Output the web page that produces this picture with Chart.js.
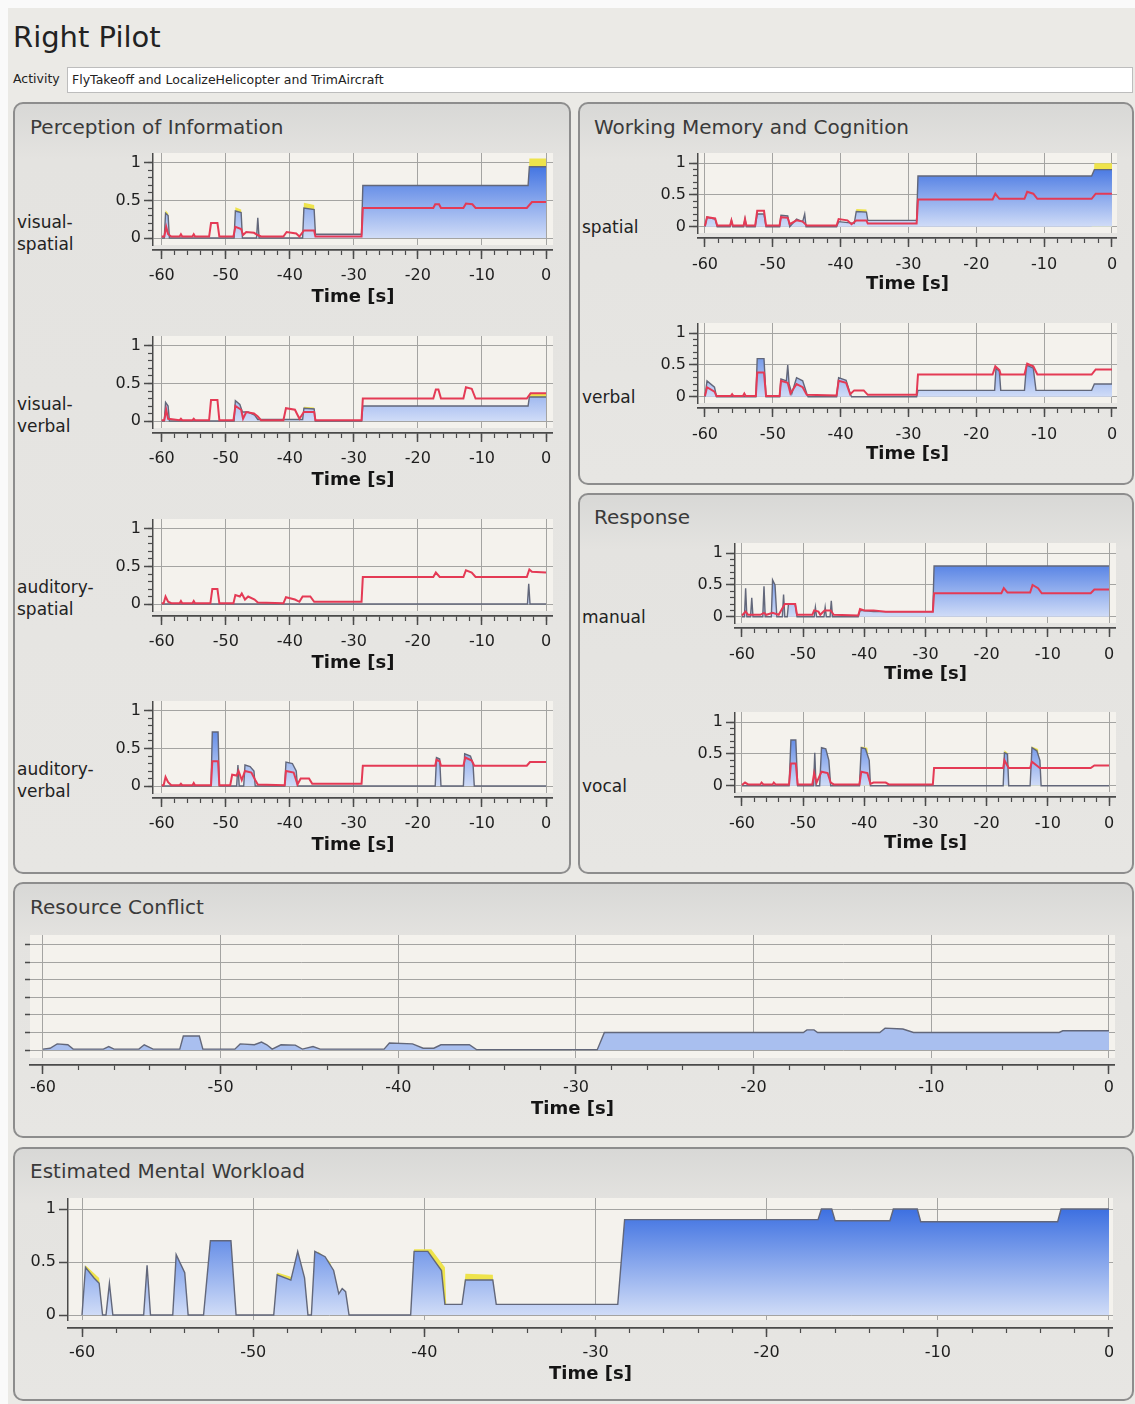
<!DOCTYPE html>
<html>
<head>
<meta charset="utf-8">
<script src="https://cdn.jsdelivr.net/npm/chart.js@4.4.1/dist/chart.umd.min.js"></script>
<style>
body{margin:0;background:#fafafa;font-family:'DejaVu Sans',sans-serif;color:#2a2a2a;}
#page{position:absolute;left:8px;top:8px;width:1127px;height:1396px;background:#ebeae6;}
.panel{position:absolute;box-sizing:border-box;border:2px solid #8d8d8d;border-radius:10px;
  background:linear-gradient(#d8d8d6 0px,#e4e3e0 55px,#e7e6e3 100%);}
.ptitle{position:absolute;font-size:20px;line-height:24px;color:#3a3a3a;white-space:nowrap;}
.row{position:absolute;font-size:17px;line-height:22px;color:#222;}
.box{position:absolute;}
#title{position:absolute;left:13px;top:17px;font-size:29px;line-height:40px;color:#222;}
#actLabel{position:absolute;left:13px;top:71px;font-size:12.5px;color:#222;}
#actBox{position:absolute;left:67px;top:67px;width:1066px;height:26px;box-sizing:border-box;background:#fff;
  border:1px solid #bdbdbd;font-size:12.5px;line-height:24px;padding-left:4px;color:#222;}
</style>
</head>
<body>
<div id="page"></div>
<div id="title">Right Pilot</div>
<div id="actLabel">Activity</div>
<div id="actBox">FlyTakeoff and LocalizeHelicopter and TrimAircraft</div>

<div class="panel" style="left:13px;top:102px;width:558px;height:772px"></div>
<div class="panel" style="left:578px;top:102px;width:556px;height:383px"></div>
<div class="panel" style="left:578px;top:493px;width:556px;height:381px"></div>
<div class="panel" style="left:13px;top:882px;width:1121px;height:256px"></div>
<div class="panel" style="left:13px;top:1147px;width:1121px;height:254px"></div>

<div class="ptitle" style="left:30px;top:115px">Perception of Information</div>
<div class="ptitle" style="left:594px;top:115px">Working Memory and Cognition</div>
<div class="ptitle" style="left:594px;top:505px">Response</div>
<div class="ptitle" style="left:30px;top:895px">Resource Conflict</div>
<div class="ptitle" style="left:30px;top:1159px">Estimated Mental Workload</div>

<div class="row" style="left:17px;top:211px">visual-<br>spatial</div>
<div class="row" style="left:17px;top:393px">visual-<br>verbal</div>
<div class="row" style="left:17px;top:576px">auditory-<br>spatial</div>
<div class="row" style="left:17px;top:758px">auditory-<br>verbal</div>
<div class="row" style="left:582px;top:216px">spatial</div>
<div class="row" style="left:582px;top:386px">verbal</div>
<div class="row" style="left:582px;top:606px">manual</div>
<div class="row" style="left:582px;top:775px">vocal</div>

<div class="box" style="left:113px;top:153px;width:440px;height:155px"><canvas id="cVS"></canvas></div>
<div class="box" style="left:113px;top:336px;width:440px;height:155px"><canvas id="cVV"></canvas></div>
<div class="box" style="left:113px;top:519px;width:440px;height:155px"><canvas id="cAS"></canvas></div>
<div class="box" style="left:113px;top:701px;width:440px;height:155px"><canvas id="cAV"></canvas></div>
<div class="box" style="left:658px;top:153px;width:459px;height:142px"><canvas id="cWS"></canvas></div>
<div class="box" style="left:658px;top:323px;width:459px;height:142px"><canvas id="cWV"></canvas></div>
<div class="box" style="left:695px;top:543px;width:421px;height:142px"><canvas id="cRM"></canvas></div>
<div class="box" style="left:695px;top:712px;width:421px;height:142px"><canvas id="cRV"></canvas></div>
<div class="box" style="left:22px;top:935px;width:1093px;height:185px"><canvas id="cRC"></canvas></div>
<div class="box" style="left:20px;top:1198px;width:1093px;height:187px"><canvas id="cEW"></canvas></div>

<script>
// tick positions
const xMajor = [-60, -50, -40, -30, -20, -10, 0];
const xMinor = [-60, -58, -56, -54, -52, -50, -48, -46, -44, -42, -40, -38, -36, -34, -32, -30,
                -28, -26, -24, -22, -20, -18, -16, -14, -12, -10, -8, -6, -4, -2, 0];
const yMajor = [0, 0.5, 1];
const yMinor = [0, 0.1, 0.2, 0.3, 0.4, 0.5, 0.6, 0.7, 0.8, 0.9, 1];
const conflictTicks = [0, 1, 2, 3, 4, 5, 6];

// visual-spatial
const vsLoad = [[-60,0],[-59.6,0],[-59.4,0.33],[-59.0,0.3],[-58.8,0],[-48.7,0],[-48.5,0.36],[-47.6,0.34],[-47.4,0],
  [-45.2,0],[-45.0,0.27],[-44.8,0],[-38.0,0],[-37.8,0.4],[-36.2,0.38],[-36.0,0.05],[-28.8,0.05],[-28.6,0.7],
  [-2.8,0.7],[-2.6,0.95],[0,0.95]];
const vsYellow = [[-60,0],[-59.6,0],[-59.4,0.37],[-59.0,0.33],[-58.8,0],[-48.7,0],[-48.5,0.41],[-47.6,0.38],[-47.4,0],
  [-38.0,0],[-37.8,0.47],[-36.2,0.44],[-36.0,0],[-2.8,0],[-2.6,1.06],[0,1.06]];
const vsRed = [[-60,0.02],[-59.6,0.02],[-59.3,0.15],[-59.0,0.05],[-58.5,0.02],[-57.2,0.02],[-57.0,0.05],[-56.8,0.02],
  [-55.2,0.02],[-55.0,0.05],[-54.8,0.02],[-52.6,0.02],[-52.3,0.2],[-51.3,0.2],[-51.0,0.02],[-48.8,0.02],[-48.5,0.15],
  [-47.6,0.12],[-47.3,0.04],[-46.8,0.08],[-45.6,0.07],[-45.0,0.04],[-44.5,0.02],[-41.0,0.02],[-40.5,0.08],[-39.0,0.06],
  [-38.5,0.02],[-37.8,0.1],[-36.2,0.1],[-36.0,0.02],[-28.8,0.02],[-28.6,0.4],[-17.6,0.4],[-17.3,0.45],[-16.7,0.45],
  [-16.4,0.4],[-12.9,0.4],[-12.5,0.46],[-11.5,0.45],[-11.0,0.4],[-3.0,0.4],[-2.2,0.48],[0,0.48]];

// visual-verbal
const vvLoad = [[-60,0],[-59.6,0],[-59.4,0.25],[-59.0,0.2],[-58.8,0],[-48.7,0],[-48.5,0.27],[-47.8,0.22],[-47.4,0.12],
  [-46.5,0.12],[-45.5,0.08],[-45.0,0.02],[-38.0,0.02],[-37.8,0.17],[-36.2,0.16],[-36.0,0],[-28.8,0],[-28.6,0.2],
  [-2.8,0.2],[-2.6,0.32],[0,0.32]];
const vvYellow = [[-60,0],[-37.9,0],[-37.8,0.19],[-36.2,0.18],[-36.0,0],[-2.8,0],[-2.6,0.37],[0,0.37]];
const vvRed = [[-60,0.01],[-59.6,0.01],[-59.3,0.15],[-59.0,0.03],[-57.2,0.01],[-57.0,0.03],[-56.8,0.01],[-55.2,0.01],
  [-55.0,0.03],[-54.8,0.01],[-52.6,0.01],[-52.3,0.28],[-51.3,0.28],[-51.0,0.01],[-48.8,0.01],[-48.5,0.2],[-47.6,0.15],
  [-47.3,0.03],[-46.8,0.12],[-45.6,0.1],[-45.0,0.06],[-44.5,0.01],[-41.0,0.01],[-40.6,0.17],[-39.2,0.15],[-38.5,0.03],
  [-37.8,0.12],[-36.2,0.12],[-36.0,0.01],[-28.8,0.01],[-28.6,0.3],[-17.6,0.3],[-17.2,0.42],[-16.8,0.42],[-16.4,0.3],
  [-12.9,0.3],[-12.5,0.45],[-11.6,0.43],[-11.0,0.3],[-3.0,0.3],[-2.4,0.37],[0,0.37]];

// auditory-spatial
const asLoad = [[-60,0],[-2.9,0],[-2.7,0.27],[-2.5,0],[0,0]];
const asRed = [[-60,0.01],[-59.7,0.01],[-59.4,0.1],[-59.0,0.03],[-58.5,0.01],[-57.2,0.01],[-57.0,0.04],[-56.8,0.01],
  [-55.2,0.01],[-55.0,0.04],[-54.8,0.01],[-52.4,0.01],[-52.1,0.2],[-51.3,0.2],[-51.0,0.01],[-48.8,0.01],[-48.5,0.12],
  [-47.8,0.1],[-47.5,0.14],[-47.0,0.06],[-46.5,0.1],[-45.5,0.06],[-45.0,0.02],[-41.0,0.01],[-40.6,0.09],[-39.2,0.06],
  [-38.5,0.03],[-38.0,0.1],[-36.8,0.1],[-36.2,0.03],[-28.8,0.03],[-28.6,0.36],[-17.6,0.36],[-17.2,0.42],[-16.6,0.36],
  [-12.9,0.36],[-12.5,0.45],[-11.6,0.42],[-11.0,0.36],[-3.0,0.36],[-2.6,0.46],[-2.2,0.43],[0,0.42]];

// auditory-verbal
const avLoad = [[-60,0],[-52.3,0],[-52.1,0.72],[-51.2,0.72],[-51.0,0],[-48.3,0],[-48.1,0.28],[-47.9,0],[-47.2,0],
  [-47.0,0.28],[-46.2,0.26],[-45.6,0.2],[-45.4,0],[-40.8,0],[-40.6,0.32],[-39.6,0.3],[-39.0,0.2],[-38.8,0],[-17.3,0],
  [-17.1,0.38],[-16.6,0.36],[-16.4,0],[-12.9,0],[-12.7,0.43],[-11.8,0.4],[-11.4,0.3],[-11.2,0],[0,0]];
const avRed = [[-60,0.01],[-59.7,0.01],[-59.4,0.12],[-59.0,0.05],[-58.5,0.01],[-57.2,0.01],[-57.0,0.03],[-56.8,0.01],
  [-55.2,0.01],[-55.0,0.04],[-54.8,0.01],[-52.3,0.01],[-52.1,0.33],[-51.2,0.33],[-51.0,0.01],[-49.3,0.01],[-49.0,0.15],
  [-48.3,0.14],[-48.0,0.2],[-47.5,0.08],[-47.0,0.2],[-46.0,0.18],[-45.4,0.08],[-45.0,0.02],[-40.8,0.01],[-40.6,0.2],
  [-39.4,0.18],[-38.8,0.02],[-38.3,0.1],[-37.0,0.1],[-36.5,0.03],[-28.8,0.03],[-28.6,0.27],[-17.3,0.27],[-17.1,0.35],
  [-16.6,0.33],[-16.4,0.27],[-12.9,0.27],[-12.6,0.38],[-11.6,0.34],[-11.2,0.27],[-3.0,0.27],[-2.5,0.32],[0,0.32]];

// working memory spatial
const wsLoad = [[-60,0],[-59.7,0.15],[-58.5,0.12],[-58.2,0],[-56.3,0],[-56.1,0.1],[-55.9,0],[-54.3,0],[-54.1,0.12],
  [-53.9,0],[-52.6,0],[-52.3,0.2],[-51.3,0.2],[-51.0,0],[-49.0,0],[-48.8,0.18],[-47.8,0.17],[-47.5,0],[-46.5,0.12],
  [-45.6,0.08],[-45.3,0.2],[-45.1,0],[-40.6,0],[-40.3,0.08],[-38.6,0.06],[-38.0,0.05],[-37.7,0.24],[-36.2,0.23],
  [-36.0,0.1],[-28.8,0.1],[-28.6,0.8],[-3.0,0.8],[-2.6,0.9],[0,0.9]];
const wsYellow = [[-60,0],[-37.8,0],[-37.7,0.28],[-36.2,0.27],[-36.0,0],[-3.0,0],[-2.6,1.0],[0,1.0]];
const wsRed = [[-60,0.01],[-59.7,0.15],[-58.5,0.13],[-58.2,0.02],[-56.3,0.02],[-56.1,0.1],[-55.9,0.02],[-54.3,0.02],
  [-54.1,0.12],[-53.9,0.02],[-52.6,0.02],[-52.3,0.25],[-51.3,0.25],[-51.0,0.02],[-49.0,0.02],[-48.8,0.15],[-47.8,0.14],
  [-47.5,0.04],[-46.5,0.1],[-45.6,0.08],[-45.0,0.02],[-40.6,0.02],[-40.3,0.12],[-39.0,0.1],[-38.4,0.04],[-37.7,0.1],
  [-36.2,0.1],[-36.0,0.05],[-28.8,0.05],[-28.6,0.43],[-17.6,0.43],[-17.2,0.52],[-16.6,0.44],[-12.9,0.44],[-12.5,0.55],
  [-11.6,0.52],[-11.0,0.44],[-3.0,0.44],[-2.4,0.52],[0,0.52]];

// working memory verbal
const wvLoad = [[-60,0],[-59.7,0.25],[-58.6,0.15],[-58.3,0],[-52.5,0],[-52.3,0.6],[-51.3,0.6],[-51.0,0],[-49.0,0],
  [-48.8,0.28],[-48.0,0.25],[-47.8,0.5],[-47.6,0.2],[-47.2,0.05],[-46.5,0.3],[-45.6,0.25],[-45.0,0.05],[-44.8,0],
  [-40.6,0],[-40.3,0.3],[-39.2,0.26],[-38.6,0.05],[-38.4,0],[-28.8,0],[-28.6,0.1],[-17.3,0.1],[-17.1,0.45],[-16.6,0.4],
  [-16.4,0.1],[-12.9,0.1],[-12.6,0.5],[-11.6,0.45],[-11.2,0.1],[-3.0,0.1],[-2.6,0.2],[0,0.2]];
const wvRed = [[-60,0.01],[-59.7,0.15],[-58.6,0.08],[-58.3,0.01],[-56.2,0.01],[-56.0,0.04],[-55.8,0.01],[-54.4,0.01],
  [-54.2,0.05],[-54.0,0.01],[-52.5,0.01],[-52.3,0.38],[-51.3,0.38],[-51.0,0.01],[-49.0,0.01],[-48.8,0.25],[-47.8,0.22],
  [-47.4,0.05],[-46.5,0.2],[-45.6,0.15],[-45.0,0.03],[-40.6,0.02],[-40.3,0.25],[-39.2,0.22],[-38.6,0.04],[-38.0,0.1],
  [-36.6,0.1],[-36.0,0.03],[-28.8,0.03],[-28.6,0.35],[-17.6,0.35],[-17.2,0.48],[-16.6,0.42],[-16.4,0.35],[-12.9,0.35],
  [-12.5,0.52],[-11.6,0.48],[-11.0,0.35],[-3.0,0.35],[-2.4,0.43],[0,0.43]];

// response manual
const rmLoad = [[-60,0],[-59.6,0],[-59.4,0.45],[-59.2,0],[-58.6,0],[-58.4,0.3],[-58.2,0],[-56.6,0],[-56.4,0.48],
  [-56.2,0],[-55.2,0],[-55.0,0.58],[-54.6,0.5],[-54.3,0],[-53.4,0],[-53.2,0.35],[-53.0,0],[-52.6,0],[-52.4,0.2],
  [-51.3,0.2],[-51.0,0],[-48.2,0],[-48.0,0.15],[-47.8,0],[-46.6,0],[-46.4,0.15],[-46.2,0],[-45.6,0],[-45.4,0.25],
  [-45.2,0],[-41.0,0],[-40.7,0.1],[-38.5,0.08],[-28.8,0.08],[-28.6,0.8],[0,0.8]];
const rmRed = [[-60,0.02],[-59.4,0.08],[-59.0,0.03],[-57.0,0.03],[-56.4,0.06],[-56.0,0.03],[-55.0,0.06],[-54.0,0.03],
  [-53.0,0.2],[-51.3,0.2],[-51.0,0.03],[-48.5,0.03],[-48.2,0.1],[-47.5,0.08],[-47.2,0.03],[-46.5,0.1],[-45.5,0.1],
  [-45.0,0.03],[-41.0,0.02],[-40.7,0.12],[-40.0,0.1],[-38.5,0.1],[-36.5,0.08],[-28.8,0.08],[-28.6,0.37],[-17.6,0.37],
  [-17.2,0.45],[-16.6,0.38],[-12.9,0.38],[-12.5,0.5],[-11.6,0.45],[-11.0,0.37],[-3.0,0.37],[-2.4,0.43],[0,0.43]];

// response vocal
const rvLoad = [[-60,0],[-52.3,0],[-52.0,0.72],[-51.2,0.72],[-50.9,0],[-48.3,0],[-48.1,0.52],[-47.9,0],[-47.3,0],
  [-47.0,0.6],[-46.3,0.58],[-45.8,0.4],[-45.5,0],[-40.8,0],[-40.5,0.6],[-39.8,0.58],[-39.2,0.4],[-39.0,0],[-17.3,0],
  [-17.1,0.52],[-16.6,0.5],[-16.4,0],[-12.9,0],[-12.6,0.6],[-11.8,0.55],[-11.3,0.4],[-11.1,0],[0,0]];
const rvYellow = [[-60,0],[-40.8,0],[-40.5,0.62],[-39.5,0.6],[-39.0,0],[-17.3,0],[-17.1,0.56],[-16.6,0.52],[-16.4,0],
  [-12.9,0],[-12.6,0.62],[-11.6,0.58],[-11.1,0],[0,0]];
const rvRed = [[-60,0.01],[-59.5,0.05],[-59.0,0.02],[-57.0,0.02],[-56.8,0.05],[-56.5,0.02],[-55.0,0.02],[-54.8,0.05],
  [-54.5,0.02],[-52.3,0.02],[-52.0,0.35],[-51.2,0.35],[-50.9,0.02],[-48.5,0.02],[-48.2,0.2],[-47.8,0.05],[-47.0,0.22],
  [-46.0,0.2],[-45.5,0.05],[-45.0,0.02],[-40.8,0.02],[-40.5,0.22],[-39.5,0.2],[-39.0,0.03],[-38.5,0.05],[-36.5,0.05],
  [-36.0,0.02],[-28.8,0.02],[-28.6,0.28],[-17.3,0.28],[-17.1,0.4],[-16.4,0.28],[-12.9,0.28],[-12.6,0.38],[-11.3,0.28],
  [-3.0,0.28],[-2.4,0.32],[0,0.32]];

// resource conflict (grid units)
const rcLoad = [[-60,0.05],[-59.6,0.1],[-59.2,0.35],[-58.6,0.3],[-58.3,0.05],[-56.6,0.05],[-56.3,0.2],[-56.0,0.05],
  [-54.6,0.05],[-54.3,0.3],[-53.8,0.05],[-52.3,0.05],[-52.1,0.8],[-51.2,0.8],[-51.0,0.05],[-49.2,0.05],[-48.9,0.35],
  [-48.1,0.3],[-47.7,0.45],[-47.4,0.3],[-47.1,0.05],[-46.6,0.3],[-45.8,0.28],[-45.4,0.05],[-44.8,0.2],[-44.4,0.05],
  [-40.8,0.05],[-40.5,0.4],[-39.2,0.35],[-38.6,0.1],[-38.0,0.1],[-37.6,0.3],[-36.0,0.3],[-35.6,0.02],[-28.8,0.02],
  [-28.4,1.0],[-17.2,1.0],[-17.0,1.15],[-16.6,1.15],[-16.4,1.0],[-12.9,1.0],[-12.6,1.25],[-11.6,1.2],[-11.0,1.0],
  [-2.8,1.0],[-2.6,1.1],[0,1.1]];

// estimated mental workload
const ewLoad = [[-60,0],[-59.8,0.45],[-59.3,0.35],[-59.0,0.3],[-58.8,0],[-58.6,0],[-58.4,0.3],[-58.2,0],[-56.4,0],
  [-56.2,0.47],[-56.0,0],[-54.7,0],[-54.5,0.57],[-54.0,0.4],[-53.8,0],[-52.9,0],[-52.7,0.35],[-52.5,0.7],[-51.3,0.7],
  [-51.0,0],[-48.8,0],[-48.6,0.38],[-47.8,0.33],[-47.4,0.6],[-47.0,0.35],[-46.8,0],[-46.6,0],[-46.4,0.6],[-45.8,0.55],
  [-45.3,0.42],[-45.0,0.2],[-44.8,0.25],[-44.6,0.22],[-44.4,0],[-40.8,0],[-40.6,0.6],[-39.8,0.6],[-39.0,0.42],
  [-38.8,0.1],[-37.8,0.1],[-37.6,0.33],[-36.0,0.33],[-35.8,0.1],[-28.7,0.1],[-28.3,0.9],[-17.0,0.9],[-16.8,1.0],
  [-16.2,1.0],[-16.0,0.89],[-12.8,0.89],[-12.6,1.0],[-11.2,1.0],[-11.0,0.88],[-3.0,0.88],[-2.8,1.0],[0,1.0]];
const ewYellow = [[-60,0],[-59.8,0.47],[-59.0,0.35],[-58.8,0],[-48.8,0],[-48.6,0.4],[-47.8,0.36],[-47.4,0],[-46.4,0],
  [-46.2,0.6],[-45.5,0.5],[-45.0,0],[-40.8,0],[-40.6,0.62],[-39.6,0.62],[-38.8,0.45],[-38.7,0],[-37.8,0],[-37.6,0.39],
  [-36.0,0.38],[-35.9,0],[0,0]];

Chart.defaults.font.family = "'DejaVu Sans', sans-serif";
Chart.defaults.color = '#222';

const GRID = '#a4a4a2';
const AXIS = '#4a4a4a';
const RED = '#e43a55';
const OUTLINE = '#62677a';
const YELLOW = '#eee34c';
const PLOT_BG = '#f4f2ed';

const plotBg = {
  id: 'plotBg',
  beforeDraw(chart) {
    const {ctx, chartArea: a} = chart;
    ctx.save();
    ctx.fillStyle = PLOT_BG;
    ctx.fillRect(a.left, a.top, a.width, a.height);
    ctx.restore();
  }
};

function pts(list) {
  return list.map(p => ({x: p[0], y: p[1]}));
}
function setTicks(vals) {
  return s => { s.ticks = vals.map(v => ({value: v})); };
}
function fitH(h) {
  return s => { s.height = h; s.paddingLeft = 0; s.paddingRight = 0; s.paddingTop = 0; s.paddingBottom = 0; };
}
function fitW(w) {
  return s => { s.width = w; s.paddingLeft = 0; s.paddingRight = 0; s.paddingTop = 0; s.paddingBottom = 0; };
}
function blueFill(ctx) {
  const c = ctx.chart;
  if (!c.chartArea) return '#7fa2ea';
  const y = c.scales.y;
  const g = c.ctx.createLinearGradient(0, y.getPixelForValue(1), 0, y.getPixelForValue(0));
  g.addColorStop(0, '#3d70e1');
  g.addColorStop(1, '#d0dcf7');
  return g;
}

function makeChart(id, s, g) {
  const datasets = [];
  if (s.yellow) {
    datasets.push({data: pts(s.yellow), fill: 'origin', backgroundColor: YELLOW, borderWidth: 0, pointRadius: 0, order: 3});
  }
  datasets.push({data: pts(s.load), fill: 'origin', backgroundColor: s.flat ? '#a9bfef' : blueFill,
    borderColor: OUTLINE, borderWidth: 1.4, pointRadius: 0, order: 2});
  if (s.red) {
    datasets.push({data: pts(s.red), fill: false, borderColor: RED, borderWidth: 2, pointRadius: 0, order: 1});
  }
  new Chart(document.getElementById(id), {
    type: 'line',
    data: {datasets},
    options: {
      responsive: true,
      maintainAspectRatio: false,
      animation: false,
      events: [],
      layout: {padding: 0},
      plugins: {legend: {display: false}, tooltip: {enabled: false}},
      scales: {
        x: {type: 'linear', position: 'bottom', weight: 0, min: g.xMin, max: g.xMax,
          afterBuildTicks: setTicks(xMajor), afterFit: fitH(g.gap),
          ticks: {display: false}, border: {display: false}, grid: {color: GRID, drawTicks: false}},
        xMinor: {type: 'linear', position: 'bottom', weight: 1, min: g.xMin, max: g.xMax,
          afterBuildTicks: setTicks(xMinor), afterFit: fitH(0),
          ticks: {display: false}, border: {display: true, color: AXIS, width: 1.5},
          grid: {drawOnChartArea: false, tickLength: 5, tickColor: AXIS, tickWidth: 1.2}},
        xMajor: {type: 'linear', position: 'bottom', weight: 2, min: g.xMin, max: g.xMax,
          afterBuildTicks: setTicks(xMajor), afterFit: fitH(g.axisH),
          ticks: {padding: g.pad, font: {size: 16}, color: '#1e1e1e', autoSkip: false, maxRotation: 0, callback: v => String(v)},
          border: {display: true, color: AXIS, width: 1.5},
          grid: {drawOnChartArea: false, tickLength: 9, tickColor: AXIS, tickWidth: 1.5},
          title: {display: true, text: 'Time [s]', font: {size: 18, weight: 'bold'}, color: '#151515', padding: 0}},
        y: {type: 'linear', position: 'left', weight: 1, min: g.yMin, max: g.yMax,
          afterBuildTicks: setTicks(g.yTicks), afterFit: fitW(g.yW),
          ticks: {display: g.yLabels, padding: 3, font: {size: 16}, color: '#1e1e1e', callback: v => String(v)},
          border: {display: g.yLabels, color: AXIS, width: 1.5},
          grid: {color: GRID, tickLength: g.yLabels ? 9 : 5, tickColor: AXIS, tickWidth: 1.5}},
        yMinor: {type: 'linear', position: 'left', weight: 0, min: g.yMin, max: g.yMax, display: g.yMinorTicks ? true : false,
          afterBuildTicks: setTicks(g.yMinorTicks || []), afterFit: fitW(0),
          ticks: {display: false}, border: {display: false},
          grid: {drawOnChartArea: false, tickLength: 5, tickColor: AXIS, tickWidth: 1.2}}
      }
    },
    plugins: [plotBg]
  });
}

// axis ranges / layout per block
const leftGeo = {xMin: -61.36, xMax: 1.09, yMin: -0.093, yMax: 1.133, yW: 40, gap: 5, axisH: 58, pad: 7,
  yTicks: yMajor, yMinorTicks: yMinor, yLabels: true};
const wmGeo = {xMin: -61.03, xMax: 0.74, yMin: -0.099, yMax: 1.162, yW: 40, gap: 5, axisH: 57, pad: 8,
  yTicks: yMajor, yMinorTicks: yMinor, yLabels: true};
const respGeo = {xMin: -61.14, xMax: 1.14, yMin: -0.099, yMax: 1.162, yW: 40, gap: 5, axisH: 57, pad: 8,
  yTicks: yMajor, yMinorTicks: yMinor, yLabels: true};
const rcGeo = {xMin: -60.73, xMax: 0.34, yMin: -0.457, yMax: 6.571, yW: 8, gap: 7, axisH: 55, pad: 4,
  yTicks: conflictTicks, yLabels: false};
const ewGeo = {xMin: -60.82, xMax: 0.234, yMin: -0.047, yMax: 1.104, yW: 48, gap: 8, axisH: 57, pad: 6,
  yTicks: yMajor, yLabels: true};

makeChart('cVS', {load: vsLoad, yellow: vsYellow, red: vsRed}, leftGeo);
makeChart('cVV', {load: vvLoad, yellow: vvYellow, red: vvRed}, leftGeo);
makeChart('cAS', {load: asLoad, red: asRed}, leftGeo);
makeChart('cAV', {load: avLoad, red: avRed}, leftGeo);
makeChart('cWS', {load: wsLoad, yellow: wsYellow, red: wsRed}, wmGeo);
makeChart('cWV', {load: wvLoad, red: wvRed}, wmGeo);
makeChart('cRM', {load: rmLoad, red: rmRed}, respGeo);
makeChart('cRV', {load: rvLoad, yellow: rvYellow, red: rvRed}, respGeo);
makeChart('cRC', {load: rcLoad, flat: true}, rcGeo);
makeChart('cEW', {load: ewLoad, yellow: ewYellow}, ewGeo);
</script>
</body>
</html>
